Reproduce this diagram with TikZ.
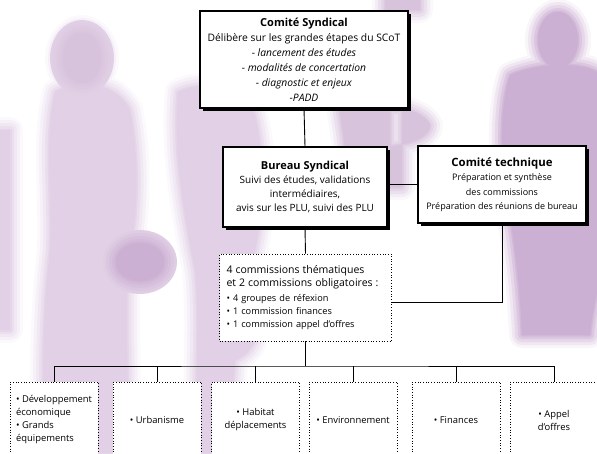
\documentclass[tikz,border=0pt]{standalone}
\usepackage{fontspec}
\setmainfont{Open Sans}
\usepackage{xcolor}
\usepackage{tikz}
\usetikzlibrary{shadows, calc}

\definecolor{silhlight}{RGB}{226,209,230}
\definecolor{silhmid}{RGB}{216,195,221}
\definecolor{silhdark}{RGB}{204,176,211}

% soft-edged figure: fill colour, colour around it, path
\newcommand{\softblob}[3]{%
  \foreach \w/\m in {26/12, 20/30, 14/50, 8/70, 3/88}{
    \draw[line width=\w pt, line join=round, color=#1!\m!#2] #3;
  }
  \fill[#1] #3;
}

\begin{document}
\begin{tikzpicture}[
    x=1pt, y=-1pt,
    box/.style={draw, line width=1.1pt, fill=white, inner sep=0pt, align=center,
      drop shadow={shadow xshift=2.5pt, shadow yshift=-2.5pt, fill=black, opacity=1}},
    dotbox/.style={draw, dotted, line width=0.7pt, fill=white, inner sep=0pt},
    grpbox/.style={dotbox, minimum width=88pt, minimum height=76pt,
      font=\fontsize{9.4}{13}\selectfont},
    link/.style={line width=0.9pt}
]
\useasboundingbox (0,0) rectangle (597,453);
\clip (0,0) rectangle (597,453);

% Background figures
% left woman
\softblob{silhlight}{white}{(0,130) rectangle (10,330)}
\softblob{silhlight}{white}{(82,58) ellipse [x radius=24, y radius=30]
  (55,92) .. controls (80,78) and (115,82) .. (130,110) .. controls (140,160) and (138,220) .. (128,262) .. controls (125,330) and (130,400) .. (127,453) -- (45,453) .. controls (42,380) and (42,320) .. (50,250) .. controls (52,190) and (44,140) .. (55,92) -- cycle}
\softblob{silhmid}{silhlight}{(82,58) ellipse [x radius=19, y radius=25]}
\softblob{silhdark}{silhlight}{(140,262) ellipse [x radius=24, y radius=19]}
% walking man behind the bureau
\softblob{silhlight}{white}{(178,92) .. controls (200,80) and (240,85) .. (255,115) .. controls (268,170) and (262,230) .. (250,270) .. controls (235,330) and (232,400) .. (228,453) -- (196,453) .. controls (195,380) and (200,320) .. (195,270) .. controls (185,220) and (172,150) .. (178,92) -- cycle
  (200,295) .. controls (230,285) and (258,300) .. (257,330) .. controls (255,360) and (220,370) .. (200,362) -- cycle}
% figure behind the top box
\softblob{silhmid}{white}{(340,112) .. controls (370,100) and (420,105) .. (430,125) .. controls (430,145) and (380,150) .. (345,148) -- cycle
  (385,-10) rectangle (420,10)
  (390,110) rectangle (402,187)}
% standing man on the right
\softblob{silhdark}{white}{(558,40) ellipse [x radius=20, y radius=28]
  (510,75) .. controls (540,62) and (580,62) .. (597,72) -- (610,240) .. controls (600,280) and (592,310) .. (590,335) -- (522,335) .. controls (520,290) and (515,250) .. (512,230) .. controls (500,170) and (498,110) .. (510,75) -- cycle}

% Upper boxes
\node[box, minimum width=208pt, minimum height=97pt, font=\fontsize{10.3}{15}\selectfont]
  (comsynd) at (304,59.5) {{\fontsize{11}{15}\selectfont\bfseries Comité Syndical}\\
  Délibère sur les grandes étapes du SCoT\\
  \textit{- lancement des études}\\\textit{- modalités de concertation}\\
  \textit{- diagnostic et enjeux}\\\textit{-PADD}};
\node[box, minimum width=164pt, minimum height=80pt, font=\fontsize{10}{14.3}\selectfont]
  (bursynd) at (305,187) {{\fontsize{11}{14.3}\selectfont\bfseries Bureau Syndical}\\
  Suivi des études, validations\\intermédiaires,\\avis sur les PLU, suivi des PLU};
\node[box, minimum width=168pt, minimum height=77pt, font=\fontsize{9}{14.5}\selectfont]
  (comtech) at (502,184.5) {{\fontsize{11.4}{14.5}\selectfont\bfseries Comité technique}\\
  Préparation et synthèse\\des commissions\\Préparation des réunions de bureau};

% Commissions
\node[dotbox, inner xsep=7pt, text width=158pt, minimum height=87pt, align=left,
  font=\fontsize{9.2}{13}\selectfont] (comm) at (305.5,297.5)
  {{\fontsize{10.5}{12.5}\selectfont 4 commissions thématiques\\et 2 commissions obligatoires :}\\[2pt]
  • 4 groupes de réfexion\\• 1 commission finances\\• 1 commission appel d'offres};

% Thematic groups
\node[grpbox, align=left] (grp1) at (54,420) {• Développement\\économique\\• Grands\\équipements};
\node[grpbox] (grp2) at (157,420) {• Urbanisme};
\node[grpbox, align=center] (grp3) at (255.5,420) {• Habitat\\déplacements};
\node[grpbox] (grp4) at (353,420) {• Environnement};
\node[grpbox] (grp5) at (456,420) {• Finances};
\node[grpbox, align=center] (grp6) at (554,420) {• Appel\\d'offres};

% Connectors
\draw[link] (comsynd.south) -- (bursynd.north);
\draw[link] (comtech.west) -- (comtech.west -| bursynd.east);
\draw[link] (bursynd.south) -- (comm.north);
\draw[link] (comtech.south) |- ($(comm.east)+(0,4.5)$);
\coordinate (bus) at (305.5,366);
\draw[link] (comm.south) -- (bus);
\draw[link] (grp1.north) |- (bus) -| (grp6.north);
\foreach \g in {grp2,grp3,grp4,grp5}
  \draw[link] (\g.north) -- (\g.north |- bus);

\end{tikzpicture}
\end{document}
